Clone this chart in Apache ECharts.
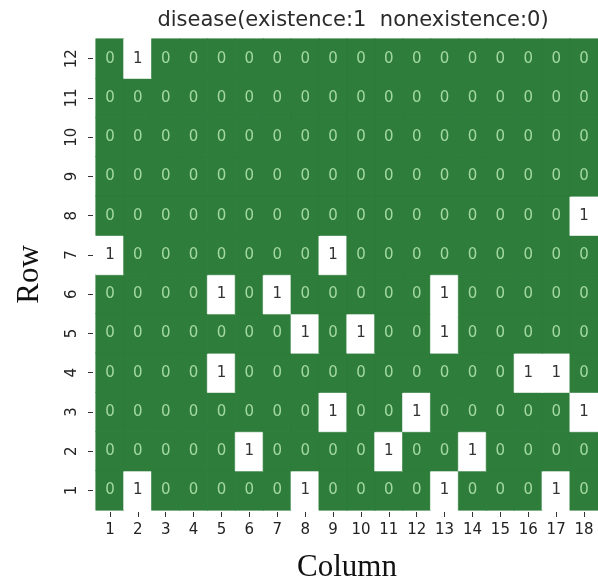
<!DOCTYPE html>
<html>
<head>
<meta charset="utf-8">
<script src="https://cdn.jsdelivr.net/npm/echarts@6/dist/echarts.min.js"></script>
<style>
  html, body { margin: 0; padding: 0; background: #fff; }
  #chart { width: 598px; height: 583px; }
</style>
</head>
<body>
<div id="chart"></div>
<script>
  // column / row categories
  var columns = ['1','2','3','4','5','6','7','8','9','10','11','12','13','14','15','16','17','18'];
  var rows = ['1','2','3','4','5','6','7','8','9','10','11','12'];

  // disease matrix, one array per row (row 1 first)
  var row1  = [0,1,0,0,0,0,0,1,0,0,0,0,1,0,0,0,1,0];
  var row2  = [0,0,0,0,0,1,0,0,0,0,1,0,0,1,0,0,0,0];
  var row3  = [0,0,0,0,0,0,0,0,1,0,0,1,0,0,0,0,0,1];
  var row4  = [0,0,0,0,1,0,0,0,0,0,0,0,0,0,0,1,1,0];
  var row5  = [0,0,0,0,0,0,0,1,0,1,0,0,1,0,0,0,0,0];
  var row6  = [0,0,0,0,1,0,1,0,0,0,0,0,1,0,0,0,0,0];
  var row7  = [1,0,0,0,0,0,0,0,1,0,0,0,0,0,0,0,0,0];
  var row8  = [0,0,0,0,0,0,0,0,0,0,0,0,0,0,0,0,0,1];
  var row9  = [0,0,0,0,0,0,0,0,0,0,0,0,0,0,0,0,0,0];
  var row10 = [0,0,0,0,0,0,0,0,0,0,0,0,0,0,0,0,0,0];
  var row11 = [0,0,0,0,0,0,0,0,0,0,0,0,0,0,0,0,0,0];
  var row12 = [0,1,0,0,0,0,0,0,0,0,0,0,0,0,0,0,0,0];

  var matrix = [row1,row2,row3,row4,row5,row6,row7,row8,row9,row10,row11,row12];

  var GREEN = '#2e7d3b';
  var cells = [];
  matrix.forEach(function (r, yi) {
    r.forEach(function (v, xi) {
      var fill = v === 1 ? '#ffffff' : GREEN;
      cells.push({
        value: [xi, yi, v],
        itemStyle: { color: fill, borderColor: fill, borderWidth: 0.6 },
        label: { color: v === 1 ? '#333333' : '#a3d9a0' }
      });
    });
  });

  var chart = echarts.init(document.getElementById('chart'));
  chart.setOption({
    backgroundColor: '#ffffff',
    animation: false,
    title: {
      text: 'disease(existence:1  nonexistence:0)',
      left: 348,
      textAlign: 'center',
      top: 5,
      textStyle: { fontFamily: 'DejaVu Sans', fontSize: 21, fontWeight: 'normal', color: '#2b2b2b' }
    },
    grid: { left: 96, right: 0, top: 39, bottom: 73, outerBoundsMode: 'none' },
    xAxis: {
      type: 'category',
      data: columns,
      offset: 2,
      name: 'Column',
      nameLocation: 'middle',
      nameGap: 40,
      nameTextStyle: { fontFamily: 'Liberation Serif', fontSize: 31, color: '#111' },
      axisLine: { show: false },
      axisTick: { show: true, alignWithLabel: true, length: 5, lineStyle: { color: '#333' } },
      axisLabel: { fontFamily: 'DejaVu Sans', fontSize: 15, color: '#222', margin: 11 },
      splitArea: { show: false }
    },
    yAxis: {
      type: 'category',
      data: rows,
      offset: 3,
      name: 'Row',
      nameLocation: 'middle',
      nameGap: 48,
      nameTextStyle: { fontFamily: 'Liberation Serif', fontSize: 31, color: '#111' },
      axisLine: { show: false },
      axisTick: { show: true, alignWithLabel: true, length: 5, lineStyle: { color: '#333' } },
      axisLabel: { fontFamily: 'DejaVu Sans', fontSize: 15, color: '#222', rotate: 90, margin: 13 },
      splitArea: { show: false }
    },
    series: [{
      type: 'heatmap',
      data: cells,
      label: {
        show: true,
        fontFamily: 'DejaVu Sans',
        fontSize: 15,
        formatter: function (p) { return p.value[2]; }
      },
      emphasis: { disabled: true }
    }]
  });
</script>
</body>
</html>
